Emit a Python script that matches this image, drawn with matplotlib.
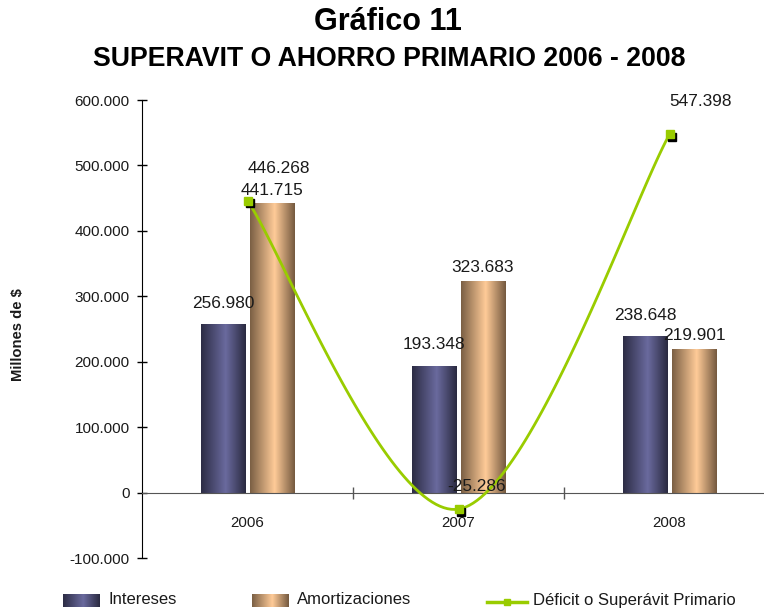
import numpy as np
import matplotlib
matplotlib.use("Agg")
import matplotlib.pyplot as plt
from matplotlib.ticker import FuncFormatter, FixedLocator
from matplotlib.transforms import offset_copy
from matplotlib.colors import LinearSegmentedColormap

# Data
years = ["2006", "2007", "2008"]
intereses = [256980, 193348, 238648]
amortizaciones = [441715, 323683, 219901]
deficit = [446268, -25286, 547398]

SANS = ["Liberation Sans", "DejaVu Sans"]
TXT = "#1a1a1a"
GREEN = "#99cc00"

# cylinder-like shading for the bars
cmap_int = LinearSegmentedColormap.from_list(
    "int", [(0, "#2c2c44"), (0.55, "#6a6a9e"), (1, "#2a2a40")])
cmap_amo = LinearSegmentedColormap.from_list(
    "amo", [(0, "#7a5f44"), (0.55, "#ffcb98"), (1, "#74593f")])


def fmt_miles(v):
    s = f"{abs(int(round(v))):,}".replace(",", ".")
    return "-" + s if v < 0 else s


def smooth(xs, ys, n=60):
    # Excel style smoothed line (Catmull-Rom bezier)
    P = np.column_stack([xs, ys]).astype(float)
    P = np.vstack([P[0], P, P[-1]])
    out = []
    t = np.linspace(0, 1, n)[:, None]
    for i in range(1, len(P) - 2):
        p0, p1 = P[i], P[i + 1]
        c1 = p0 + (P[i + 1] - P[i - 1]) / 6
        c2 = p1 - (P[i + 2] - P[i]) / 6
        seg = ((1 - t) ** 3) * p0 + 3 * ((1 - t) ** 2) * t * c1 + 3 * (1 - t) * t ** 2 * c2 + t ** 3 * p1
        out.append(seg)
    seg = np.vstack(out)
    return seg[:, 0], seg[:, 1]


fig = plt.figure(figsize=(7.64, 6.12), dpi=100)
ax = fig.add_axes([142 / 764, 54 / 612, 633 / 764, 458 / 612])

x = np.arange(len(years))
w = 0.212
grad = np.linspace(0, 1, 256)[None, :]

bars_i = ax.bar(x - 0.116, intereses, w, color="none", zorder=2)
bars_a = ax.bar(x + 0.116, amortizaciones, w, color="none", zorder=2)
for bars, cmap in ((bars_i, cmap_int), (bars_a, cmap_amo)):
    for b in bars:
        x0, y0 = b.get_x(), b.get_y()
        ax.imshow(grad, cmap=cmap, aspect="auto", zorder=2,
                  extent=(x0, x0 + b.get_width(), y0, y0 + b.get_height()))

# data labels on bars
for bars, vals, dy in ((bars_i, intereses, 10), (bars_a, amortizaciones, 4)):
    for b, v in zip(bars, vals):
        ax.annotate(fmt_miles(v), (b.get_x() + b.get_width() / 2, v),
                    xytext=(0, dy), textcoords="offset points", ha="center",
                    va="bottom", fontsize=12.4, family=SANS, color=TXT, zorder=5)

# smoothed line
sx, sy = smooth(x, deficit)
ax.plot(sx, sy, color=GREEN, lw=2, zorder=3, solid_capstyle="round")
shadow = offset_copy(ax.transData, fig=fig, x=2.5, y=-2.5, units="dots")
ax.plot(x, deficit, ls="none", marker="s", ms=6, color="black", transform=shadow, zorder=3)
ax.plot(x, deficit, ls="none", marker="s", ms=6, color=GREEN, zorder=4)

line_offsets = [(0, 18), (-8, 11), (0, 18)]
for xi, v, off in zip(x, deficit, line_offsets):
    ax.annotate(fmt_miles(v), (xi, v), xytext=off, textcoords="offset points",
                ha="left", va="bottom", fontsize=12.4, family=SANS, color=TXT, zorder=5)

# axes
ax.set_xlim(-0.5, 2.5)
ax.set_ylim(-100000, 600000)
ax.set_yticks(np.arange(-100000, 600001, 100000))
ax.yaxis.set_major_formatter(FuncFormatter(lambda v, p: fmt_miles(v)))
ax.tick_params(axis="y", direction="inout", length=7.5, width=1, pad=5,
               labelsize=11, labelcolor=TXT)
for lab in ax.get_yticklabels():
    lab.set_family(SANS)

ax.spines["bottom"].set_position(("data", 0))
ax.spines["bottom"].set_color("#555555")
ax.spines["top"].set_visible(False)
ax.spines["right"].set_visible(False)
ax.set_xticks(x)
ax.set_xticklabels(years, family=SANS, fontsize=10.8, color=TXT)
ax.tick_params(axis="x", which="major", length=0, pad=17)
ax.xaxis.set_minor_locator(FixedLocator([0.5, 1.5, 2.5]))
ax.tick_params(axis="x", which="minor", direction="inout", length=9, width=1, color="#555555")

fig.text(18 / 764, 1 - 335 / 612, "Millones de $", rotation=90, ha="center", va="center",
         family=SANS, fontsize=10.6, fontweight="bold", color=TXT)

# titles
fig.text(0.508, 1 - 22 / 612, "Gráfico 11", ha="center", va="center",
         family=SANS, fontsize=22, fontweight="bold", color="black")
fig.text(0.509, 1 - 59 / 612, "SUPERAVIT O AHORRO PRIMARIO 2006 - 2008", ha="center",
         va="center", family=SANS, fontsize=19.2, fontweight="bold", color="black")

# legend drawn by hand
ly = 1 - 600 / 612
for px, cmap in ((63, cmap_int), (252, cmap_amo)):
    lax = fig.add_axes([px / 764, (612 - 607) / 612, 37 / 764, 13 / 612])
    lax.imshow(grad, cmap=cmap, aspect="auto")
    lax.set_axis_off()
fig.text(108 / 764, ly, "Intereses", ha="left", va="center", family=SANS,
         fontsize=12, color=TXT)
fig.text(297 / 764, ly, "Amortizaciones", ha="left", va="center", family=SANS,
         fontsize=12, color=TXT)
fig.add_artist(plt.Line2D([487 / 764, 527 / 764], [1 - 602 / 612] * 2, color=GREEN, lw=2.5))
fig.add_artist(plt.Line2D([507 / 764], [1 - 602 / 612], marker="s", ms=5, color=GREEN))
fig.text(533 / 764, ly, "Déficit o Superávit Primario", ha="left", va="center",
         family=SANS, fontsize=12, color=TXT)

fig.savefig("out.png", dpi=100)
